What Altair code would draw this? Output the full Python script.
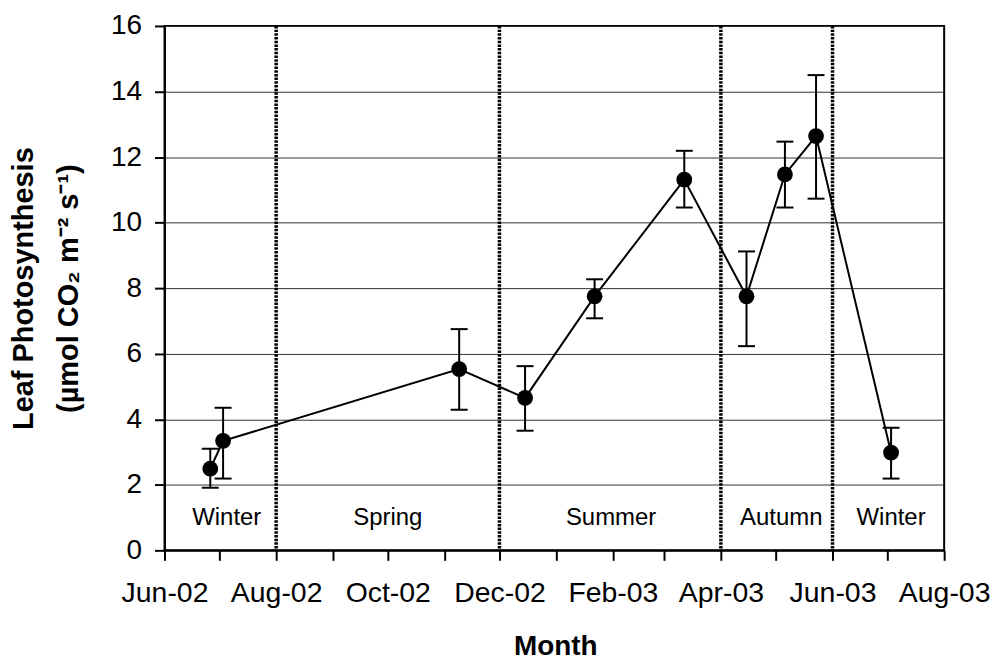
import altair as alt
import pandas as pd

# ---- data ----
dates = ["2002-06-26", "2002-07-03", "2002-11-09", "2002-12-15", "2003-01-22",
         "2003-03-12", "2003-04-15", "2003-05-06", "2003-05-23", "2003-07-03"]
values = [2.49, 3.34, 5.53, 4.65, 7.75, 11.31, 7.75, 11.47, 12.64, 2.98]
err_low = [1.91, 2.19, 4.29, 3.65, 7.08, 10.46, 6.23, 10.46, 10.73, 2.19]
err_high = [3.10, 4.35, 6.75, 5.62, 8.27, 12.19, 9.12, 12.47, 14.50, 3.74]

season_names = ["Winter", "Spring", "Summer", "Autumn", "Winter"]
season_dates = ["2002-07-05", "2002-10-01", "2003-01-31", "2003-05-04", "2003-07-03"]
season_bounds = ["2002-08-01", "2002-12-01", "2003-04-01", "2003-06-01"]

month_ticks = ["2002-06-01", "2002-07-01", "2002-08-01", "2002-09-01", "2002-10-01",
               "2002-11-01", "2002-12-01", "2003-01-01", "2003-02-01", "2003-03-01",
               "2003-04-01", "2003-05-01", "2003-06-01", "2003-07-01", "2003-08-01"]
y_ticks = list(range(0, 17))

FONT = "Liberation Sans"


def ms(s):
    return int(pd.Timestamp(s, tz="UTC").value // 10**6)


tick_ms = [ms(s) for s in month_ticks]
x_domain = [tick_ms[0], tick_ms[-1]]

df = pd.DataFrame({"date": dates, "value": values, "lo": err_low, "hi": err_high})
seasons = pd.DataFrame({"date": season_dates, "name": season_names})
bounds = pd.DataFrame({"date": season_bounds})

x_scale = alt.Scale(type="utc", domain=x_domain, nice=False)
y_scale = alt.Scale(domain=[0, 16], nice=False, zero=False)

x_axis = alt.Axis(
    values=tick_ms,
    labelExpr="utcmonth(datum.value) % 2 == 1 ? utcFormat(datum.value, '%b-%y') : ''",
    labelOverlap=False, labelFlush=False, labelBound=False,
    grid=False, tickSize=10, tickWidth=2, tickColor="black",
    domainWidth=2, domainColor="black",
    labelFont=FONT, labelFontSize=28.5, labelColor="black",
    labelBaseline="alphabetic", labelPadding=41,
    title="Month", titleFont=FONT, titleFontSize=28, titleFontWeight="bold",
    titleColor="black", titleBaseline="alphabetic", titleY=104, titleX=392,
    titleAnchor="middle", titleAlign="center",
)

y_axis = alt.Axis(
    values=y_ticks,
    labelExpr="datum.value % 2 == 0 ? datum.label : ''",
    labelOverlap=False, labelFlush=False, labelBound=False,
    grid=True, gridColor="#333333", gridWidth=1,
    gridOpacity={"condition": {"test": "datum.value % 2 == 1 || datum.value == 0", "value": 0}, "value": 1},
    tickSize=10, tickWidth=2, tickColor="black",
    domainWidth=2, domainColor="black",
    labelFont=FONT, labelFontSize=28, labelColor="black", labelPadding=13,
    title=["Leaf Photosynthesis", "(µmol CO₂ m⁻² s⁻¹)"],
    titleFont=FONT, titleFontSize=29, titleFontWeight="bold", titleColor="black",
    titleAngle=270, titleBaseline="alphabetic", titleAlign="center",
    titleX=-132, titleY=263, titleLineHeight=45,
)

base = alt.Chart(df)
X = alt.X("date:T", scale=x_scale, axis=x_axis)

bound_rules = alt.Chart(bounds).mark_rule(
    color="black", strokeWidth=3.5, strokeDash=[2.5, 1.2]
).encode(x=alt.X("date:T", scale=x_scale))

line = base.mark_line(color="black", strokeWidth=2).encode(
    x=X, y=alt.Y("value:Q", scale=y_scale, axis=y_axis)
)

err = base.mark_rule(color="black", strokeWidth=2).encode(
    x=alt.X("date:T", scale=x_scale), y=alt.Y("lo:Q", scale=y_scale), y2="hi:Q"
)
cap_lo = base.mark_tick(color="black", orient="horizontal", size=17, thickness=2, opacity=1).encode(
    x=alt.X("date:T", scale=x_scale), y=alt.Y("lo:Q", scale=y_scale)
)
cap_hi = base.mark_tick(color="black", orient="horizontal", size=17, thickness=2, opacity=1).encode(
    x=alt.X("date:T", scale=x_scale), y=alt.Y("hi:Q", scale=y_scale)
)
points = base.mark_circle(color="black", size=250, opacity=1).encode(
    x=alt.X("date:T", scale=x_scale), y=alt.Y("value:Q", scale=y_scale)
)

labels = alt.Chart(seasons).mark_text(
    font=FONT, fontSize=24, color="black", baseline="middle", align="center"
).encode(
    x=alt.X("date:T", scale=x_scale), y=alt.datum(1.0), text="name:N"
)

chart = alt.layer(
    line, bound_rules, err, cap_lo, cap_hi, points, labels
).properties(
    width=782, height=526,
    padding={"left": 157, "top": 17, "right": 50, "bottom": 110},
    autosize=alt.AutoSizeParams(type="none"),
    background="white",
).configure_view(stroke="black", strokeWidth=2)

chart.save("out.html", embed_options={"renderer": "svg", "actions": False})
